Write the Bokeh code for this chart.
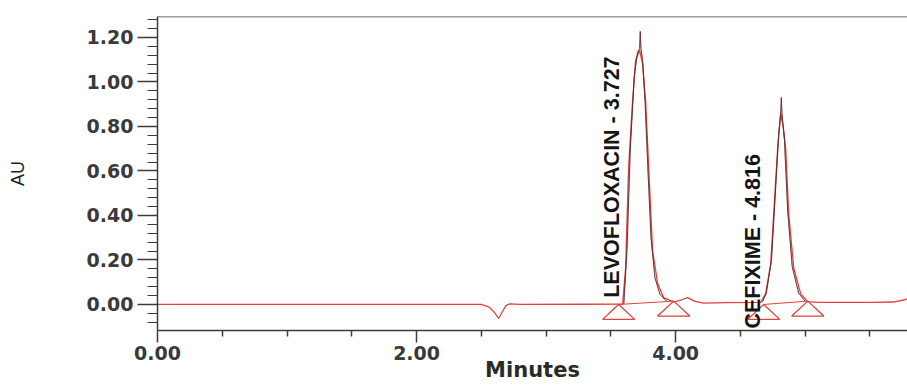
from bokeh.plotting import figure
from bokeh.models import Range1d, FixedTicker, PrintfTickFormatter, Span, ColumnDataSource
from bokeh.core.properties import value
from bokeh.embed import file_html
from bokeh.resources import INLINE

# ---- data ----
trace_t = [0.00, 0.40, 0.90, 1.50, 2.00, 2.50, 2.56, 2.60, 2.633, 2.66, 2.69, 2.72, 2.80,
           3.30, 3.591, 3.614, 3.637, 3.668, 3.691, 3.722, 3.745, 3.768, 3.792, 3.822, 3.861, 3.907,
           3.985, 4.04, 4.093, 4.15, 4.216, 4.40, 4.656, 4.695, 4.734, 4.757, 4.788, 4.811, 4.830,
           4.849, 4.873, 4.911, 4.965, 5.019, 5.10, 5.50, 5.68, 5.76, 5.80]
trace_au = [0.000, 0.000, 0.000, 0.000, 0.000, 0.000, -0.012, -0.035, -0.063, -0.035, -0.005, 0.003, 0.000,
            0.001, 0.002, 0.166, 0.616, 0.917, 1.097, 1.142, 1.080, 0.917, 0.616, 0.243, 0.094, 0.031,
            0.012, 0.020, 0.031, 0.014, 0.006, 0.008, 0.009, 0.049, 0.184, 0.409, 0.706, 0.858, 0.800,
            0.706, 0.409, 0.166, 0.049, 0.013, 0.009, 0.009, 0.011, 0.020, 0.028]

levo_black_t = [3.60, 3.625, 3.65, 3.68, 3.705, 3.722, 3.727, 3.732, 3.745, 3.765, 3.785, 3.81, 3.84, 3.88, 3.93]
levo_black_au = [0.002, 0.25, 0.70, 1.02, 1.13, 1.15, 1.227, 1.15, 1.10, 0.90, 0.62, 0.30, 0.12, 0.045, 0.015]
cef_black_t = [4.67, 4.70, 4.74, 4.765, 4.795, 4.811, 4.816, 4.821, 4.84, 4.865, 4.90, 4.95, 5.00]
cef_black_au = [0.012, 0.05, 0.20, 0.45, 0.76, 0.86, 0.93, 0.86, 0.74, 0.42, 0.17, 0.05, 0.015]

peak_names = ["LEVOFLOXACIN", "CEFIXIME"]
peak_rt = [3.727, 4.816]

# integration baseline markers (start/end of each peak)
mark_start_t = [3.56, 4.68]
mark_start_au = [0.000, 0.000]
mark_end_t = [3.985, 5.02]
mark_end_au = [0.015, 0.015]

x_major = [0, 2, 4]
x_minor = [0.5, 1.0, 1.5, 2.5, 3.0, 3.5, 4.5, 5.0, 5.5]
y_major = [0.0, 0.2, 0.4, 0.6, 0.8, 1.0, 1.2]
y_minor = [-0.08, -0.04] + [round(0.04 * i, 2) for i in range(1, 33) if i % 5 != 0]

# ---- styling ----
RED = "#e2403f"
BLACK = "#1a1a1a"
AXIS = "#3c3c3c"
X_END = 5.79
Y_START, Y_END = -0.117, 1.294
TRI_HALF_W = 0.124
TRI_H = 0.067
LABEL_DX = -0.215
LABEL_Y = [0.03, -0.108]

p = figure(width=907, height=385, output_backend="svg", toolbar_location=None,
           x_range=Range1d(0, X_END), y_range=Range1d(Y_START, Y_END),
           min_border_left=157, min_border_right=0, min_border_top=16, min_border_bottom=55)
p.outline_line_color = None
p.xgrid.visible = False
p.ygrid.visible = False
p.background_fill_color = "white"

# trace
p.line(trace_t, trace_au, line_color=RED, line_width=1.3)
p.line(levo_black_t, levo_black_au, line_color=BLACK, line_width=1.0, line_alpha=0.85)
p.line(cef_black_t, cef_black_au, line_color=BLACK, line_width=1.0, line_alpha=0.85)
p.line(levo_black_t, levo_black_au, line_color=RED, line_width=0.8, line_alpha=0.4)
p.line(cef_black_t, cef_black_au, line_color=RED, line_width=0.8, line_alpha=0.4)

# integration baselines and triangles
p.segment(x0=mark_start_t, y0=mark_start_au, x1=mark_end_t, y1=mark_end_au,
          line_color=RED, line_width=1.0)
tri_x, tri_y = [], []
for t, a in list(zip(mark_start_t, mark_start_au)) + list(zip(mark_end_t, mark_end_au)):
    tri_x.append([t, t - TRI_HALF_W, t + TRI_HALF_W])
    tri_y.append([a, a - TRI_H, a - TRI_H])
p.patches(tri_x, tri_y, fill_color=None, line_color=RED, line_width=1.3)

# peak labels
labels = ColumnDataSource(dict(
    x=[t + LABEL_DX for t in peak_rt],
    y=LABEL_Y,
    text=[f"{n} - {t:.3f}" for n, t in zip(peak_names, peak_rt)],
))
p.text(x="x", y="y", text="text", source=labels, angle=1.5708,
       text_font=value("Liberation Sans"), text_font_size="21.5px", text_font_style="bold",
       text_color="#151515", text_align="left", text_baseline="alphabetic")

# top border
p.add_layout(Span(location=Y_END, dimension="width", line_color=AXIS, line_width=1.5))

# axes
xa = p.xaxis[0]
xa.ticker = FixedTicker(ticks=x_major, minor_ticks=x_minor)
xa.formatter = PrintfTickFormatter(format="%.2f")
xa.axis_label = "Minutes"
xa.axis_label_text_font = "DejaVu Sans"
xa.axis_label_text_font_style = "bold"
xa.axis_label_text_font_size = "21px"
xa.axis_label_text_color = "#2a2a2a"
xa.axis_label_standoff = -5
xa.major_label_text_font = "DejaVu Sans"
xa.major_label_text_font_style = "bold"
xa.major_label_text_font_size = "19px"
xa.major_label_text_color = "#3a3a3a"
xa.major_label_standoff = 3
xa.major_tick_out = 12
xa.major_tick_in = 0
xa.minor_tick_out = 6
xa.minor_tick_in = 0
xa.axis_line_color = AXIS
xa.axis_line_width = 1.5
xa.major_tick_line_color = AXIS
xa.major_tick_line_width = 1.5
xa.minor_tick_line_color = AXIS
xa.minor_tick_line_width = 1.5

ya = p.yaxis[0]
ya.ticker = FixedTicker(ticks=y_major, minor_ticks=y_minor)
ya.formatter = PrintfTickFormatter(format="%.2f")
ya.axis_label = "AU"
ya.axis_label_text_font = "Liberation Sans"
ya.axis_label_text_font_style = "normal"
ya.axis_label_text_font_size = "18px"
ya.axis_label_text_color = "#222222"
ya.axis_label_standoff = 56
ya.major_label_text_font = "DejaVu Sans"
ya.major_label_text_font_style = "bold"
ya.major_label_text_font_size = "19px"
ya.major_label_text_color = "#3a3a3a"
ya.major_label_standoff = 4
ya.major_tick_out = 20
ya.major_tick_in = 0
ya.minor_tick_out = 10
ya.minor_tick_in = 0
ya.axis_line_color = AXIS
ya.axis_line_width = 1.5
ya.major_tick_line_color = AXIS
ya.major_tick_line_width = 1.5
ya.minor_tick_line_color = AXIS
ya.minor_tick_line_width = 1.2

open("out.html", "w").write(file_html(p, INLINE))
